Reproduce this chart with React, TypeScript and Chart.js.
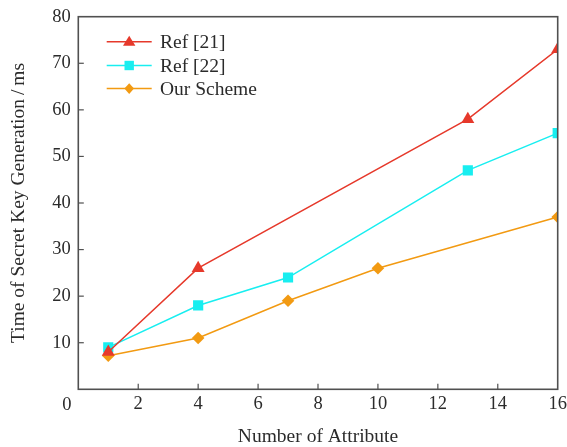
import React, { useEffect, useRef } from "react";
import { Chart, registerables } from "chart.js";

Chart.register(...registerables);

const attributesRef21 = [1, 4, 13, 16];
const timesRef21 = [8, 26, 58, 73];
const attributesRef22 = [1, 4, 7, 13, 16];
const timesRef22 = [9, 18, 24, 47, 55];
const attributesOurs = [1, 4, 7, 10, 16];
const timesOurs = [7.2, 11, 19, 26, 37];
const seriesNames = ["Ref [21]", "Ref [22]", "Our Scheme"];
const xTitle = "Number of Attribute";
const yTitle = "Time of Secret Key Generation\u2009/\u2009ms";

const FONT = "'Liberation Serif', 'Times New Roman', serif";
const AXIS_COLOR = "#505050";
const TEXT_COLOR = "#2b2b2b";
const TICK_FONT_SIZE = 18.5;

const framePlugin = {
  id: "frameAndTicks",
  afterDatasetsDraw(chart: any) {
    const { ctx, chartArea, scales } = chart;
    const { left, right, top, bottom } = chartArea;
    ctx.save();
    ctx.strokeStyle = AXIS_COLOR;
    ctx.lineWidth = 1.6;
    ctx.strokeRect(left, top, right - left, bottom - top);
    ctx.lineWidth = 1.2;
    const tl = 5.5;
    const xs = scales.x;
    xs.ticks.forEach((t: any) => {
      const px = xs.getPixelForValue(t.value);
      if (Math.abs(px - left) < 1 || Math.abs(px - right) < 1) return;
      ctx.beginPath();
      ctx.moveTo(px, bottom);
      ctx.lineTo(px, bottom - tl);
      ctx.stroke();
    });
    const ys = scales.y;
    ys.ticks.forEach((t: any) => {
      const py = ys.getPixelForValue(t.value);
      if (Math.abs(py - top) < 1 || Math.abs(py - bottom) < 1) return;
      ctx.beginPath();
      ctx.moveTo(left, py);
      ctx.lineTo(left + tl, py);
      ctx.stroke();
    });
    // shared origin label, drawn just left of the axis corner
    ctx.fillStyle = TEXT_COLOR;
    ctx.font = `${TICK_FONT_SIZE}px ${FONT}`;
    ctx.textAlign = "center";
    ctx.textBaseline = "middle";
    ctx.fillText("0", xs.getPixelForValue(0) - 11.5, bottom + 16);
    ctx.restore();
  },
  afterDraw(chart: any) {
    const { ctx } = chart;
    const datasets = chart.data.datasets;
    ctx.save();
    const x0 = 106.7;
    const x1 = 151.7;
    const rows = [41.7, 65.5, 88.6];
    ctx.font = `19.5px ${FONT}`;
    ctx.textBaseline = "middle";
    ctx.textAlign = "left";
    datasets.forEach((ds: any, i: number) => {
      const y = rows[i];
      ctx.strokeStyle = ds.borderColor;
      ctx.lineWidth = ds.borderWidth;
      ctx.beginPath();
      ctx.moveTo(x0, y);
      ctx.lineTo(x1, y);
      ctx.stroke();
      ctx.fillStyle = ds.pointBackgroundColor;
      const cx = (x0 + x1) / 2;
      ctx.beginPath();
      if (ds.pointStyle === "triangle") {
        ctx.moveTo(cx, y - 6);
        ctx.lineTo(cx + 6.2, y + 4);
        ctx.lineTo(cx - 6.2, y + 4);
        ctx.closePath();
      } else if (ds.pointStyle === "rect") {
        ctx.rect(cx - 4.7, y - 4.7, 9.4, 9.4);
      } else {
        ctx.moveTo(cx, y - 5.3);
        ctx.lineTo(cx + 4.8, y);
        ctx.lineTo(cx, y + 5.3);
        ctx.lineTo(cx - 4.8, y);
        ctx.closePath();
      }
      ctx.fill();
      ctx.fillStyle = TEXT_COLOR;
      ctx.fillText(ds.label, 160, y + 1);
    });
    ctx.restore();
  },
};

function toPoints(xs: number[], ys: number[]) {
  return xs.map((x, i) => ({ x, y: ys[i] }));
}

export default function App() {
  const canvasRef = useRef<HTMLCanvasElement | null>(null);

  useEffect(() => {
    const canvas = canvasRef.current;
    if (!canvas) return;
    const red = "#e6392b";
    const cyan = "#18eef0";
    const orange = "#f29a12";
    const chart = new Chart(canvas, {
      type: "line",
      data: {
        datasets: [
          {
            label: seriesNames[0],
            data: toPoints(attributesRef21, timesRef21),
            borderColor: red,
            backgroundColor: red,
            pointBackgroundColor: red,
            pointBorderColor: red,
            pointBorderWidth: 0,
            pointStyle: "triangle",
            pointRadius: 7.5,
            borderWidth: 1.5,
          },
          {
            label: seriesNames[1],
            data: toPoints(attributesRef22, timesRef22),
            borderColor: cyan,
            backgroundColor: cyan,
            pointBackgroundColor: cyan,
            pointBorderColor: cyan,
            pointBorderWidth: 0,
            pointStyle: "rect",
            pointRadius: 7.2,
            borderWidth: 1.5,
          },
          {
            label: seriesNames[2],
            data: toPoints(attributesOurs, timesOurs),
            borderColor: orange,
            backgroundColor: orange,
            pointBackgroundColor: orange,
            pointBorderColor: orange,
            pointBorderWidth: 0,
            pointStyle: "rectRot",
            pointRadius: 6.3,
            borderWidth: 1.5,
          },
        ],
      },
      options: {
        responsive: false,
        animation: false,
        layout: { padding: { top: 16.7, right: 9.3, left: 0, bottom: 0 } },
        plugins: {
          legend: { display: false },
          tooltip: { enabled: false },
        },
        scales: {
          x: {
            type: "linear",
            min: 0,
            max: 16,
            ticks: {
              stepSize: 2,
              color: TEXT_COLOR,
              font: { family: FONT, size: TICK_FONT_SIZE, lineHeight: 1 },
              padding: 0,
              callback: (v: any) => (v === 0 ? "" : String(v)),
            },
            grid: {
              display: true,
              drawOnChartArea: false,
              drawTicks: true,
              tickLength: 6,
              color: "rgba(0,0,0,0)",
              tickColor: "rgba(0,0,0,0)",
            },
            border: { display: false },
            title: {
              display: true,
              text: xTitle,
              color: TEXT_COLOR,
              font: { family: FONT, size: 19.5, lineHeight: 1 },
              padding: { top: 0, bottom: 0 },
            },
            afterFit: (scale: any) => {
              scale.height = 57.7;
            },
          },
          y: {
            type: "linear",
            min: 0,
            max: 80,
            ticks: {
              stepSize: 10,
              color: TEXT_COLOR,
              font: { family: FONT, size: TICK_FONT_SIZE, lineHeight: 1 },
              padding: 0,
              callback: (v: any) => (v === 0 ? "" : String(v)),
            },
            grid: {
              display: true,
              drawOnChartArea: false,
              drawTicks: true,
              tickLength: 7.6,
              color: "rgba(0,0,0,0)",
              tickColor: "rgba(0,0,0,0)",
            },
            border: { display: false },
            title: {
              display: true,
              text: yTitle,
              color: TEXT_COLOR,
              font: { family: FONT, size: 19.5, lineHeight: 1 },
              padding: { top: 9.25, bottom: 0 },
            },
            afterFit: (scale: any) => {
              scale.width = 78.3;
            },
          },
        },
      },
      plugins: [framePlugin],
    });
    return () => chart.destroy();
  }, []);

  return (
    <div
      style={{
        position: "fixed",
        left: 0,
        top: 0,
        width: 567,
        height: 447,
        background: "#ffffff",
      }}
    >
      <canvas ref={canvasRef} width={567} height={447} />
    </div>
  );
}
